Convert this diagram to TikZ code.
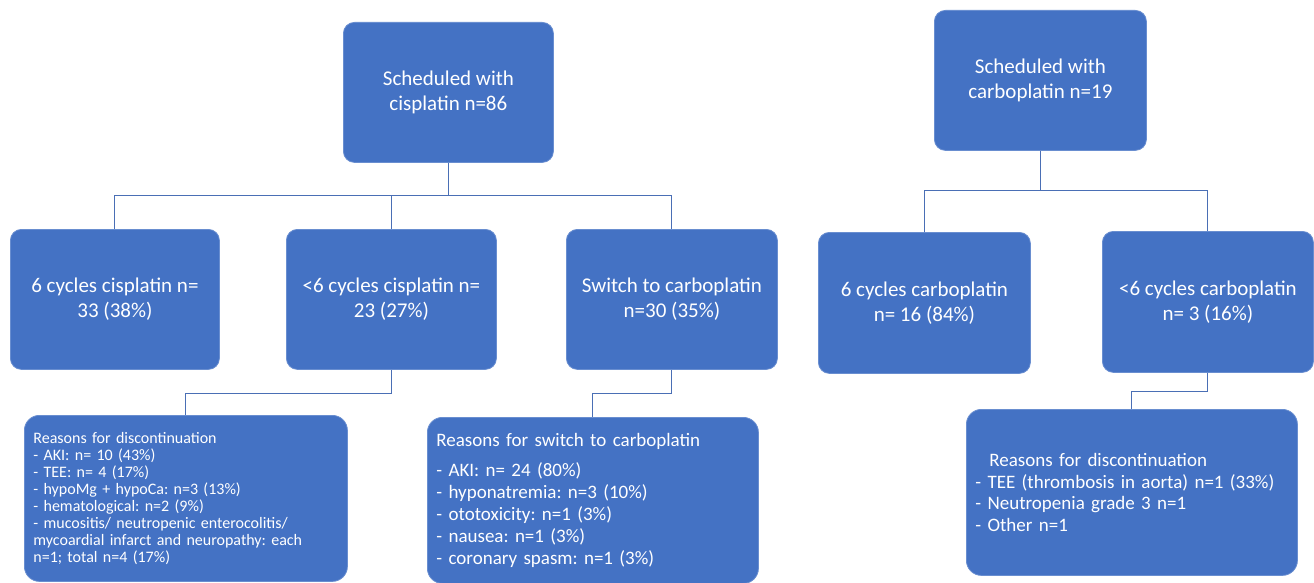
\documentclass[tikz,border=0pt]{standalone}
\usepackage{fontspec}
\setmainfont{Carlito}
\usetikzlibrary{positioning}
\definecolor{boxblue}{HTML}{4472C4}
\definecolor{linkblue}{HTML}{4A6FB5}
\frenchspacing

\begin{document}
\begin{tikzpicture}[
    x=1pt, y=-1pt,
    box/.style={draw=boxblue!80!white, fill=boxblue, rounded corners=11pt,
                line width=0.8pt, text=white, align=center, inner sep=4pt,
                anchor=north west, font=\fontsize{21}{25}\selectfont},
    note/.style={box, rounded corners=15pt, align=left, inner sep=9pt},
    link/.style={draw=linkblue, line width=1.1pt},
  ]
  \useasboundingbox (0,0) rectangle (1314,583);

  % ---- cisplatin arm ----
  \node[box, minimum width=210, minimum height=140] (cis) at (343,22)
    {Scheduled with\\cisplatin n=86};
  \node[box, minimum width=209, minimum height=140] (cisfull) at (10,229)
    {6 cycles cisplatin n=\\33 (38\%)};
  \node[box, minimum width=210, minimum height=140] (cisless) at (286,229)
    {<6 cycles cisplatin n=\\23 (27\%)};
  \node[box, minimum width=211, minimum height=140] (cisswitch) at (566,229)
    {Switch to carboplatin\\n=30 (35\%)};
  \foreach \b in {cisfull, cisless, cisswitch}
    \draw[link] (cis.south) -- ++(0,33) -| (\b.north);

  % ---- carboplatin arm ----
  \node[box, minimum width=212, minimum height=140] (carbo) at (934,10)
    {Scheduled with\\carboplatin n=19};
  \node[box, minimum width=212, minimum height=141] (carbofull) at (818,232)
    {6 cycles carboplatin\\n= 16 (84\%)};
  \node[box, minimum width=211, minimum height=141] (carboless) at (1102,231)
    {<6 cycles carboplatin\\n= 3 (16\%)};
  \foreach \b in {carbofull, carboless}
    \draw[link] (carbo.south) -- ++(0,40) -| (\b.north);

  % ---- reasons ----
  \node[note, minimum width=323, minimum height=166, text width=305,
        font=\fontsize{16}{17}\selectfont] (cisstop) at (24,415)
    {Reasons for discontinuation\\
     - AKI: n= 10 (43\%)\\
     - TEE: n= 4 (17\%)\\
     - hypoMg + hypoCa: n=3 (13\%)\\
     - hematological: n=2 (9\%)\\
     - mucositis/ neutropenic enterocolitis/\\
     mycoardial infarct and neuropathy: each\\
     n=1; total n=4 (17\%)};
  \node[note, minimum width=331, minimum height=166, text width=313,
        font=\fontsize{19}{22}\selectfont] (cisreason) at (427,417)
    {Reasons for switch to carboplatin\\[8pt]
     - AKI: n= 24 (80\%)\\
     - hyponatremia: n=3 (10\%)\\
     - ototoxicity: n=1 (3\%)\\
     - nausea: n=1 (3\%)\\
     - coronary spasm: n=1 (3\%)};
  \node[note, minimum width=331, minimum height=166, text width=313,
        font=\fontsize{19}{21.5}\selectfont] (carbostop) at (966,409)
    {\hspace{14pt}Reasons for discontinuation\\
     - TEE (thrombosis in aorta) n=1 (33\%)\\
     - Neutropenia grade 3 n=1\\
     - Other n=1};
  \draw[link] (cisless.south) -- ++(0,24) -| (cisstop.north);
  \draw[link] (cisswitch.south) -- ++(0,24) -| (cisreason.north);
  \draw[link] (carboless.south) -- ++(0,19) -| (carbostop.north);
\end{tikzpicture}
\end{document}
